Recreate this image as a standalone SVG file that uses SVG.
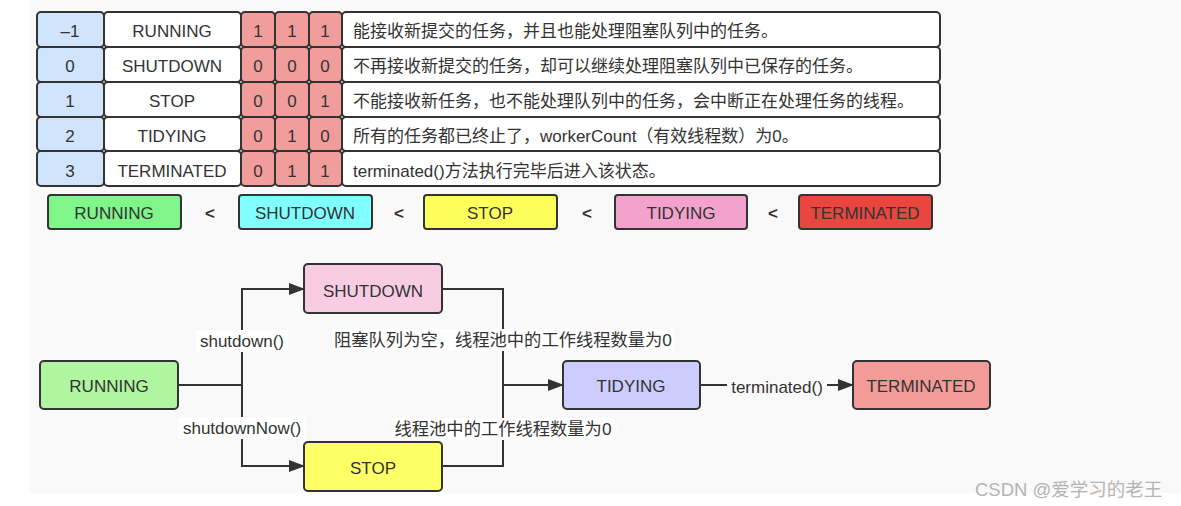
<svg xmlns="http://www.w3.org/2000/svg" width="1181" height="506" viewBox="0 0 1181 506">
<defs>
<style>
text{font-family:"Liberation Sans","Noto Sans CJK SC",sans-serif;font-size:17px;fill:#333;}
.c{text-anchor:middle;dominant-baseline:central;}
.l{dominant-baseline:central;}
.cell{stroke:#333;stroke-width:2;}
.num{fill:#d0e4fb;}
.wh{fill:#fff;}
.bit{fill:#f19d9c;}
.box{stroke:#333;stroke-width:2;}
.line{fill:none;stroke:#333;stroke-width:2;}
.lbg{fill:#fff;}
.lt{font-weight:bold;}
</style>
<marker id="arr" markerWidth="16" markerHeight="12" refX="15" refY="6" orient="auto" markerUnits="userSpaceOnUse">
<path d="M0,0 L16,6 L0,12 Z" fill="#333"/>
</marker>
</defs>
<rect x="0" y="0" width="1181" height="506" fill="#fff"/>
<rect x="30" y="0" width="1151" height="493" fill="#f9f9f9"/>

<g id="table">
<g id="row-running">
<rect class="cell num" x="37" y="12" width="67" height="35" rx="4"/>
<rect class="cell wh" x="104" y="12" width="137" height="35" rx="4"/>
<rect class="cell bit" x="241" y="12" width="34" height="35" rx="4"/>
<rect class="cell bit" x="275" y="12" width="34" height="35" rx="4"/>
<rect class="cell bit" x="309" y="12" width="33" height="35" rx="4"/>
<rect class="cell wh" x="342" y="12" width="598" height="35" rx="4"/>
<text class="c" x="70" y="31">–1</text>
<text class="c" x="172" y="31">RUNNING</text>
<text class="c" x="258" y="31">1</text>
<text class="c" x="292" y="31">1</text>
<text class="c" x="325" y="31">1</text>
<text class="l" x="353" y="31">能接收新提交的任务，并且也能处理阻塞队列中的任务。</text>
</g>
<g id="row-shutdown">
<rect class="cell num" x="37" y="47" width="67" height="35" rx="4"/>
<rect class="cell wh" x="104" y="47" width="137" height="35" rx="4"/>
<rect class="cell bit" x="241" y="47" width="34" height="35" rx="4"/>
<rect class="cell bit" x="275" y="47" width="34" height="35" rx="4"/>
<rect class="cell bit" x="309" y="47" width="33" height="35" rx="4"/>
<rect class="cell wh" x="342" y="47" width="598" height="35" rx="4"/>
<text class="c" x="70" y="66">0</text>
<text class="c" x="172" y="66">SHUTDOWN</text>
<text class="c" x="258" y="66">0</text>
<text class="c" x="292" y="66">0</text>
<text class="c" x="325" y="66">0</text>
<text class="l" x="353" y="66">不再接收新提交的任务，却可以继续处理阻塞队列中已保存的任务。</text>
</g>
<g id="row-stop">
<rect class="cell num" x="37" y="82" width="67" height="35" rx="4"/>
<rect class="cell wh" x="104" y="82" width="137" height="35" rx="4"/>
<rect class="cell bit" x="241" y="82" width="34" height="35" rx="4"/>
<rect class="cell bit" x="275" y="82" width="34" height="35" rx="4"/>
<rect class="cell bit" x="309" y="82" width="33" height="35" rx="4"/>
<rect class="cell wh" x="342" y="82" width="598" height="35" rx="4"/>
<text class="c" x="70" y="101">1</text>
<text class="c" x="172" y="101">STOP</text>
<text class="c" x="258" y="101">0</text>
<text class="c" x="292" y="101">0</text>
<text class="c" x="325" y="101">1</text>
<text class="l" x="353" y="101">不能接收新任务，也不能处理队列中的任务，会中断正在处理任务的线程。</text>
</g>
<g id="row-tidying">
<rect class="cell num" x="37" y="117" width="67" height="34" rx="4"/>
<rect class="cell wh" x="104" y="117" width="137" height="34" rx="4"/>
<rect class="cell bit" x="241" y="117" width="34" height="34" rx="4"/>
<rect class="cell bit" x="275" y="117" width="34" height="34" rx="4"/>
<rect class="cell bit" x="309" y="117" width="33" height="34" rx="4"/>
<rect class="cell wh" x="342" y="117" width="598" height="34" rx="4"/>
<text class="c" x="70" y="136">2</text>
<text class="c" x="172" y="136">TIDYING</text>
<text class="c" x="258" y="136">0</text>
<text class="c" x="292" y="136">1</text>
<text class="c" x="325" y="136">0</text>
<text class="l" x="353" y="136">所有的任务都已终止了，workerCount（有效线程数）为0。</text>
</g>
<g id="row-terminated">
<rect class="cell num" x="37" y="151" width="67" height="35" rx="4"/>
<rect class="cell wh" x="104" y="151" width="137" height="35" rx="4"/>
<rect class="cell bit" x="241" y="151" width="34" height="35" rx="4"/>
<rect class="cell bit" x="275" y="151" width="34" height="35" rx="4"/>
<rect class="cell bit" x="309" y="151" width="33" height="35" rx="4"/>
<rect class="cell wh" x="342" y="151" width="598" height="35" rx="4"/>
<text class="c" x="70" y="171">3</text>
<text class="c" x="172" y="171">TERMINATED</text>
<text class="c" x="258" y="171">0</text>
<text class="c" x="292" y="171">1</text>
<text class="c" x="325" y="171">1</text>
<text class="l" x="353" y="171">terminated()方法执行完毕后进入该状态。</text>
</g>
</g>

<g id="order">
<g id="ord-running"><rect class="box" x="48" y="195" width="133" height="34" rx="3" fill="#80f58a"/><text class="c" x="114" y="213">RUNNING</text></g>
<text class="c lt" x="210" y="213">&lt;</text>
<g id="ord-shutdown"><rect class="box" x="239" y="195" width="133" height="34" rx="3" fill="#80ffff"/><text class="c" x="305" y="213">SHUTDOWN</text></g>
<text class="c lt" x="399" y="213">&lt;</text>
<g id="ord-stop"><rect class="box" x="424" y="195" width="133" height="34" rx="3" fill="#ffff5c"/><text class="c" x="490" y="213">STOP</text></g>
<text class="c lt" x="587" y="213">&lt;</text>
<g id="ord-tidying"><rect class="box" x="615" y="195" width="132" height="34" rx="3" fill="#f2a2cc"/><text class="c" x="681" y="213">TIDYING</text></g>
<text class="c lt" x="773" y="213">&lt;</text>
<g id="ord-terminated"><rect class="box" x="799" y="195" width="133" height="34" rx="3" fill="#e8463f"/><text class="c" x="865" y="213">TERMINATED</text></g>
</g>

<g id="connectors">
<path class="line" d="M178,385 H242"/>
<path class="line" d="M242,385 V289 H304" marker-end="url(#arr)"/>
<path class="line" d="M242,385 V466 H304" marker-end="url(#arr)"/>
<path class="line" d="M442,289 H503 V466 H442"/>
<path class="line" d="M503,385 H563" marker-end="url(#arr)"/>
<path class="line" d="M700,385 H853" marker-end="url(#arr)"/>
<rect class="lbg" x="196" y="330" width="92" height="22"/>
<text class="c" x="242" y="341">shutdown()</text>
<rect class="lbg" x="178" y="417" width="128" height="22"/>
<text class="c" x="242" y="428">shutdownNow()</text>
<rect class="lbg" x="332" y="329" width="342" height="22"/>
<text class="c" x="503" y="340" style="font-size:17.3px">阻塞队列为空，线程池中的工作线程数量为0</text>
<rect class="lbg" x="392" y="418" width="222" height="22"/>
<text class="c" x="503" y="429" style="font-size:17.3px">线程池中的工作线程数量为0</text>
<rect x="727" y="376" width="100" height="20" fill="#f9f9f9"/>
<text class="c" x="777" y="387">terminated()</text>
</g>

<g id="node-running"><rect class="box" x="40" y="361" width="138" height="48" rx="4" fill="#b0f5a0"/><text class="c" x="109" y="386">RUNNING</text></g>
<g id="node-shutdown"><rect class="box" x="304" y="264" width="138" height="49" rx="4" fill="#f8cde4"/><text class="c" x="373" y="291">SHUTDOWN</text></g>
<g id="node-stop"><rect class="box" x="304" y="442" width="138" height="49" rx="4" fill="#ffff66"/><text class="c" x="373" y="468">STOP</text></g>
<g id="node-tidying"><rect class="box" x="563" y="361" width="137" height="48" rx="4" fill="#ccccff"/><text class="c" x="631" y="386">TIDYING</text></g>
<g id="node-terminated"><rect class="box" x="853" y="361" width="137" height="48" rx="4" fill="#f29b98"/><text class="c" x="921" y="386">TERMINATED</text></g>

<text class="l" x="975" y="489" style="fill:#b4b4b4;font-size:18.5px;">CSDN @爱学习的老王</text>
</svg>
